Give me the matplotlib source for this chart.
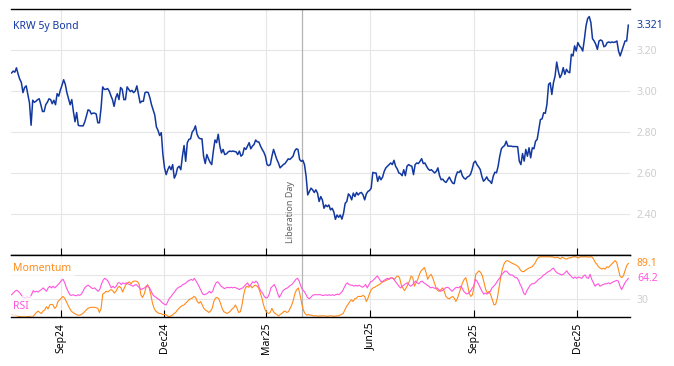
import numpy as np
import pandas as pd
import matplotlib
matplotlib.use('Agg')
import matplotlib.pyplot as plt
import matplotlib.dates as mdates

plt.rcParams['font.family'] = ['Noto Sans', 'DejaVu Sans']

# ---- data ----
start_date = '2024-07-19'
end_date = '2026-01-15'
liberation_day = '2025-04-02'
tick_dates = ['2024-09-01', '2024-12-01', '2025-03-01', '2025-06-01', '2025-09-01', '2025-12-01']

bond_5y = [
	3.088, 3.097, 3.092, 3.113, 3.083, 3.058, 3.042, 2.992, 3.017, 3.025,
	2.983, 2.942, 2.833, 2.955, 2.945, 2.950, 2.958, 2.962, 2.933, 2.900,
	2.900, 2.933, 2.945, 2.962, 2.958, 2.938, 2.955, 2.933, 2.987, 2.975,
	3.005, 3.028, 3.055, 3.033, 2.992, 2.962, 2.933, 2.958, 2.900, 2.850,
	2.895, 2.833, 2.830, 2.830, 2.830, 2.850, 2.878, 2.908, 2.905, 2.888,
	2.892, 2.892, 2.888, 2.845, 2.845, 2.917, 3.020, 3.008, 3.008, 3.012,
	3.000, 2.978, 2.958, 2.925, 2.967, 2.987, 2.958, 3.017, 3.008, 2.958,
	2.958, 3.020, 3.008, 2.997, 3.003, 2.992, 3.000, 3.025, 2.983, 2.942,
	2.950, 2.950, 2.992, 2.995, 2.992, 2.967, 2.933, 2.908, 2.883, 2.825,
	2.808, 2.783,
	2.797, 2.690, 2.625, 2.592, 2.616, 2.633, 2.616, 2.641, 2.575, 2.592,
	2.625, 2.633, 2.616, 2.682, 2.734, 2.657, 2.748, 2.764, 2.767, 2.800,
	2.810, 2.830, 2.789, 2.772, 2.767, 2.767, 2.682, 2.646, 2.690, 2.669,
	2.652, 2.641, 2.707, 2.761, 2.748, 2.789, 2.731, 2.698, 2.715, 2.690,
	2.693, 2.702, 2.707, 2.705, 2.707, 2.705, 2.703, 2.690, 2.707, 2.682,
	2.690, 2.723, 2.715, 2.731, 2.748, 2.718, 2.731, 2.739, 2.761, 2.752,
	2.751, 2.731, 2.715, 2.702, 2.682, 2.641, 2.636, 2.641, 2.682, 2.715,
	2.690, 2.666, 2.649, 2.625, 2.633, 2.641, 2.646, 2.657, 2.669, 2.666,
	2.674, 2.682, 2.707, 2.718, 2.715, 2.666, 2.657, 2.662, 2.641, 2.584,
	2.493, 2.510, 2.526, 2.518, 2.505,
	2.518, 2.502, 2.461, 2.485, 2.469, 2.428, 2.444, 2.436, 2.444, 2.420,
	2.428, 2.411, 2.374, 2.395, 2.384, 2.395, 2.375, 2.403, 2.452, 2.461,
	2.498, 2.489, 2.469, 2.502, 2.485, 2.505, 2.493, 2.502, 2.505, 2.493,
	2.469, 2.498, 2.510, 2.515, 2.526, 2.603, 2.600, 2.600, 2.559, 2.584,
	2.567, 2.580, 2.608, 2.625, 2.633, 2.641, 2.649, 2.641, 2.662, 2.633,
	2.620, 2.600, 2.597, 2.587, 2.616, 2.587, 2.633, 2.641, 2.636, 2.633,
	2.592, 2.641, 2.649, 2.646, 2.657, 2.670, 2.646, 2.649, 2.633, 2.620,
	2.613, 2.616, 2.608, 2.600, 2.608, 2.625, 2.587, 2.567, 2.570, 2.559,
	2.554, 2.567, 2.580, 2.564, 2.551, 2.548, 2.584, 2.605, 2.603, 2.613,
	2.587, 2.575, 2.570, 2.580,
	2.584, 2.593, 2.617, 2.650, 2.658, 2.641, 2.630, 2.617, 2.584, 2.560,
	2.568, 2.581, 2.565, 2.560, 2.549, 2.584, 2.604, 2.601, 2.633, 2.682,
	2.718, 2.728, 2.734, 2.755, 2.731, 2.731, 2.731, 2.729, 2.729, 2.729,
	2.728, 2.658, 2.641, 2.695, 2.658, 2.715, 2.682, 2.723, 2.674, 2.723,
	2.718, 2.755, 2.764, 2.812, 2.861, 2.864, 2.894, 2.891, 2.935, 3.032,
	3.040, 2.983, 3.040, 3.073, 3.141, 3.097, 3.065, 3.081, 3.114, 3.081,
	3.106, 3.093, 3.089, 3.179, 3.171, 3.220, 3.195, 3.236, 3.220, 3.211,
	3.195, 3.252, 3.317, 3.353, 3.363, 3.334, 3.255, 3.244, 3.228, 3.203,
	3.244, 3.249, 3.244, 3.216, 3.220, 3.236, 3.239, 3.236, 3.239, 3.237,
	3.239, 3.244, 3.195, 3.171, 3.195, 3.220, 3.244, 3.244, 3.321,
]

momentum = [
	4.6, 4.0, 3.5, 3.0, 1.8, 1.3, 0.7, 0.7, 0.7, 0.7,
	1.3, 1.8, 2.4, 1.8, 4.6, 8.0, 10.3, 8.0, 6.3, 10.3,
	12.0, 17.6, 13.7, 20.4, 21.5, 20.4, 14.8, 17.6, 26.1, 28.9,
	31.7, 34.5, 31.7, 26.1, 20.4, 14.8, 10.3, 8.0, 6.3, 4.6,
	3.5, 3.5, 4.6, 6.3, 9.2, 12.0, 14.8, 15.9, 16.5, 16.5,
	16.5, 15.9, 14.8, 8.0, 14.8, 38.4, 40.1, 43.0, 41.8, 44.1,
	45.8, 44.1, 40.1, 43.0, 48.6, 51.4, 48.6, 41.8, 48.6, 54.2,
	57.0, 58.7, 55.4, 58.7, 59.9, 59.9, 58.7, 54.2, 37.3, 32.8,
	38.4, 48.6, 54.2, 48.6, 37.3, 23.2, 14.8, 10.3, 8.0, 6.3,
	6.3, 4.6, 4.6,
	4.6, 2.4, 0.7, 2.4, 3.5, 6.3, 8.0, 12.0, 14.8, 17.6,
	19.3, 20.4, 23.2, 26.1, 28.9, 30.6, 31.7, 34.5, 32.8, 26.1,
	23.2, 26.1, 20.4, 14.8, 12.0, 10.3, 8.0, 10.3, 14.8, 26.1,
	31.7, 32.8, 30.6, 23.2, 14.8, 9.2, 8.0, 6.3, 8.0, 10.3,
	13.7, 15.9, 20.4, 14.8, 8.0, 9.2, 20.4, 37.3, 48.6, 51.4,
	49.7, 53.1, 48.6, 51.4, 53.1, 51.4, 48.6, 40.1, 31.7, 20.4,
	12.0, 8.0, 6.3, 8.0, 14.8, 9.2, 6.3, 4.6, 2.4, 4.6,
	6.3, 9.2, 10.3, 8.0, 9.2, 14.8, 20.4, 28.9, 40.1, 45.8,
	48.6, 37.3, 23.2, 12.0, 6.3, 3.5, 4.6, 3.5, 3.5, 2.4,
	2.4, 2.4, 1.8, 2.4,
	2.4, 2.4, 2.4, 1.8, 1.8, 2.4, 2.4, 1.8, 1.8, 2.4,
	2.4, 3.5, 4.6, 6.3, 12.0, 17.6, 21.5, 26.1, 28.9, 26.1,
	30.6, 31.7, 34.5, 34.5, 34.5, 36.2, 34.5, 26.1, 31.7, 40.1,
	45.8, 48.6, 49.7, 51.4, 53.1, 54.2, 57.0, 58.7, 59.9, 61.0,
	62.7, 64.4, 65.5, 64.4, 62.7, 66.6, 68.3, 65.5, 54.2, 48.6,
	44.1, 48.6, 54.2, 59.9, 68.3, 65.5, 51.4, 57.0, 62.7, 71.1,
	76.8, 79.6, 82.4, 73.9, 62.7, 68.3, 71.1, 65.5, 57.0, 48.6,
	44.1, 43.0, 45.8, 48.6, 43.0, 34.5, 31.7, 30.6, 32.8, 34.5,
	31.7, 26.1, 31.7, 40.1, 48.6, 57.0, 62.7, 65.5, 54.2, 40.1,
	34.5, 37.3, 51.4,
	71.1, 73.9, 76.8, 73.9, 68.3, 57.0, 45.8, 40.1, 43.0, 37.3,
	28.9, 20.4, 21.5, 31.7, 48.6, 65.5, 79.6, 88.0, 92.5, 93.7,
	92.5, 90.8, 89.2, 88.0, 86.9, 85.2, 82.4, 77.9, 75.6, 75.6,
	77.9, 79.6, 81.3, 82.4, 83.5, 86.9, 90.8, 96.5, 99.3, 100.0,
	100.0, 100.0, 100.0, 100.0, 100.0, 100.0, 100.0, 99.3, 98.2, 99.3,
	98.2, 96.5, 99.3, 98.2, 96.5, 96.5, 98.2, 98.2, 99.3, 100.0,
	100.0, 99.3, 98.2, 100.0, 100.0, 100.0, 100.0, 100.0, 99.3, 100.0,
	100.0, 96.5, 90.8, 88.0, 83.5, 81.3, 79.6, 81.3, 79.6, 83.5,
	82.4, 85.2, 88.0, 90.8, 93.7, 90.8, 79.6, 68.3, 65.5, 68.3,
	76.8, 85.2, 89.1,
]

rsi = [
	37.3, 40.1, 43.0, 44.7, 43.0, 40.1, 36.2, 32.8, 31.7, 33.9,
	32.8, 32.8, 37.3, 44.1, 41.8, 43.0, 41.8, 44.1, 45.8, 48.6,
	45.8, 43.0, 48.6, 51.4, 48.6, 51.4, 48.6, 51.4, 54.2, 57.0,
	61.0, 62.7, 57.0, 48.6, 43.0, 37.3, 36.2, 37.3, 36.2, 35.6,
	37.3, 36.2, 38.4, 43.0, 48.6, 51.4, 53.1, 51.4, 48.6, 47.5,
	48.6, 45.8, 43.0, 45.8, 54.2, 61.0, 64.4, 62.7, 59.9, 54.2,
	48.6, 51.4, 48.6, 51.4, 57.0, 57.0, 54.2, 57.0, 55.4, 57.0,
	55.4, 54.2, 53.1, 51.4, 53.1, 54.2, 51.4, 48.6, 45.8, 47.5,
	48.6, 51.4, 51.4, 48.6, 43.0, 37.3, 34.5, 32.8, 30.6, 28.9,
	26.1, 23.2, 21.5,
	20.4, 26.1, 31.7, 34.5, 38.4, 41.8, 45.8, 48.6, 50.3, 51.4,
	54.2, 55.4, 57.0, 59.9, 61.0, 62.7, 61.0, 64.4, 59.9, 55.4,
	49.7, 44.1, 38.4, 37.3, 38.4, 40.1, 43.0, 40.1, 43.0, 51.4,
	57.0, 58.7, 55.4, 51.4, 49.7, 47.5, 48.6, 49.7, 48.6, 49.7,
	48.6, 49.7, 48.6, 47.5, 45.8, 47.5, 48.6, 51.4, 54.2, 57.0,
	51.4, 54.2, 58.7, 57.0, 59.9, 57.0, 48.6, 43.0, 40.1, 34.5,
	31.7, 32.8, 38.4, 48.6, 51.4, 54.2, 48.6, 40.1, 32.8, 37.3,
	43.0, 45.8, 47.5, 48.6, 51.4, 53.1, 55.4, 58.7, 62.7, 64.4,
	59.9, 51.4, 45.8, 43.0, 38.4, 32.8, 30.6, 32.8, 36.2, 37.3,
	37.3, 37.3, 37.3,
	37.3, 36.2, 36.2, 37.3, 36.2, 37.3, 36.2, 37.3, 36.2, 37.3,
	38.4, 37.3, 40.1, 43.0, 48.6, 54.2, 57.0, 54.2, 53.1, 53.1,
	51.4, 53.1, 51.4, 53.1, 51.4, 49.7, 51.4, 54.2, 48.6, 54.2,
	58.7, 59.9, 62.7, 65.5, 68.3, 64.4, 59.9, 58.7, 61.0, 62.7,
	64.4, 62.7, 64.4, 65.5, 62.7, 58.7, 55.4, 51.4, 48.6, 51.4,
	53.1, 55.4, 57.0, 54.2, 51.4, 53.1, 57.0, 59.9, 57.0, 55.4,
	58.7, 59.9, 57.0, 55.4, 53.1, 51.4, 48.6, 49.7, 48.6, 47.5,
	48.6, 45.8, 43.0, 44.1, 45.8, 48.6, 49.7, 48.6, 45.8, 43.0,
	45.8, 48.6, 49.7, 48.6, 51.4, 48.6, 43.0, 40.1, 38.4, 40.1,
	43.0, 47.5, 51.4,
	62.7, 59.9, 54.2, 48.6, 43.0, 38.4, 40.1, 38.4, 40.1, 43.0,
	48.6, 51.4, 54.2, 58.7, 62.7, 66.6, 71.1, 73.9, 76.8, 75.6,
	72.3, 70.0, 70.0, 68.3, 65.5, 65.5, 61.0, 54.2, 48.6, 40.1,
	37.3, 44.1, 48.6, 53.1, 55.4, 55.4, 57.0, 59.9, 62.7, 64.4,
	66.6, 70.0, 71.1, 73.9, 75.6, 76.8, 79.6, 81.3, 76.8, 73.9,
	72.3, 71.1, 70.0, 71.1, 73.9, 76.8, 72.3, 70.0, 66.6, 64.4,
	66.6, 64.4, 66.6, 65.5, 64.4, 68.3, 70.0, 65.5, 64.4, 71.1,
	62.7, 57.0, 51.4, 54.2, 55.4, 51.4, 53.1, 54.2, 55.4, 55.4,
	57.0, 55.4, 57.0, 58.7, 59.9, 61.0, 59.9, 51.4, 45.8, 51.4,
	57.0, 61.0, 64.2,
]

bond_grid = [2.4, 2.6, 2.8, 3.0, 3.2]
osc_grid = [30, 70]
osc_labels = ['30', '']

blue = '#1238a0'
orange = '#ff8c1a'
pink = '#ff55dd'
grid_c = '#e6e6e6'
tick_c = '#cdcdcd'

d_bond = pd.date_range(start_date, end_date, periods=len(bond_5y))
d_mom = pd.date_range(start_date, end_date, periods=len(momentum))
d_rsi = pd.date_range(start_date, end_date, periods=len(rsi))
lib = pd.Timestamp(liberation_day)

fig = plt.figure(figsize=(6.74, 3.66), dpi=100)
ax = fig.add_axes([11/674, 1-255/366, 619/674, 246/366])
ax2 = fig.add_axes([11/674, 1-317.3/366, 619/674, 62.3/366], sharex=ax)

def style_axis(a):
	a.set_axisbelow(True)
	a.grid(True, color=grid_c, lw=0.8)
	for s in ['left', 'right']:
		a.spines[s].set_visible(False)
	for s in ['top', 'bottom']:
		a.spines[s].set_color('black')
		a.spines[s].set_linewidth(1.0)
	a.yaxis.tick_right()
	a.tick_params(axis='y', length=0, pad=5, labelsize=7.5, labelcolor=tick_c)
	a.tick_params(axis='x', direction='in', length=5, width=0.8, top=False)
	a.axvline(lib, color='#b4b4b4', lw=0.9, zorder=1)

style_axis(ax)
style_axis(ax2)

# main panel
ax.plot(d_bond, bond_5y, color=blue, lw=1.1)
ax.set_ylim(2.2, 3.4)
ax.set_yticks(bond_grid)
ax.set_yticklabels(['%.2f' % v for v in bond_grid])
ax.text(1.0113, bond_5y[-1], '%.3f' % bond_5y[-1], color=blue, fontsize=7.5, va='center', ha='left',
		transform=ax.get_yaxis_transform())
ax.text(0.003, 0.928, 'KRW 5y Bond', color=blue, fontsize=7.5, va='center', ha='left', transform=ax.transAxes)
ax.annotate('Liberation Day', xy=(lib, 0), xycoords=('data', 'axes fraction'), xytext=(-8.5, 8.5),
			textcoords='offset points', rotation=90, ha='center', va='bottom', fontsize=6.5, color='#606060')
ax.tick_params(axis='x', labelbottom=False)

# oscillator panel
ax2.plot(d_mom, momentum, color=orange, lw=0.8)
ax2.plot(d_rsi, rsi, color=pink, lw=0.8)
ax2.set_ylim(0, 103)
ax2.set_yticks(osc_grid)
ax2.set_yticklabels(osc_labels)
ax2.text(1.0113, momentum[-1], '%.1f' % momentum[-1], color=orange, fontsize=7.5, va='center', ha='left',
		 transform=ax2.get_yaxis_transform())
ax2.text(1.0113, rsi[-1], '%.1f' % rsi[-1], color=pink, fontsize=7.5, va='center', ha='left',
		 transform=ax2.get_yaxis_transform())
lbl_box = dict(facecolor='white', edgecolor='none', alpha=0.7, pad=3)
ax2.text(0.003, 0.79, 'Momentum', color=orange, fontsize=7.5, va='center', ha='left', transform=ax2.transAxes, bbox=lbl_box)
ax2.text(0.003, 0.18, 'RSI', color=pink, fontsize=7.5, va='center', ha='left', transform=ax2.transAxes, bbox=lbl_box)

ax2.set_xticks(pd.to_datetime(tick_dates))
ax2.xaxis.set_major_formatter(mdates.DateFormatter('%b%y'))
ax2.tick_params(axis='x', labelsize=7.5, labelrotation=90, pad=4)
ax2.set_xlim(pd.Timestamp(start_date) - pd.Timedelta(days=0.5), pd.Timestamp(end_date) + pd.Timedelta(days=1.5))

fig.savefig('out.png', dpi=100)
